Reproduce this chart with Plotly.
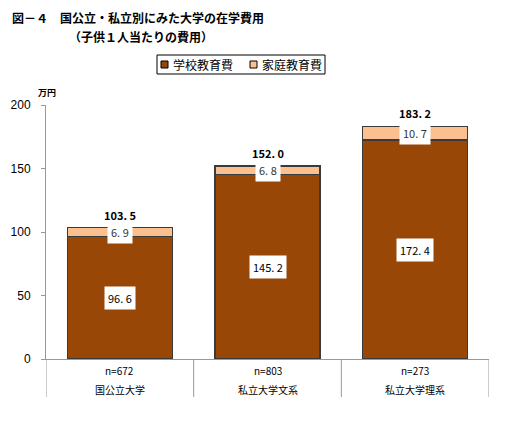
import plotly.graph_objects as go

CATEGORIES = ['国公立大学', '私立大学文系', '私立大学理系']
SAMPLE_SIZES = ['n=672', 'n=803', 'n=273']
SCHOOL_COST = [96.6, 145.2, 172.4]   # 学校教育費
HOME_COST = [6.9, 6.8, 10.7]         # 家庭教育費
TOTAL_COST = [103.5, 152.0, 183.2]
SERIES_NAMES = ['学校教育費', '家庭教育費']

BROWN = '#994706'
PEACH = '#FBC08F'
JP_FONT = 'Noto Sans CJK JP'

W, H = 508, 425
PAGE_OFFSET = 8  # default body margin of the html page

# helpers: screen pixel -> paper fraction
def px_x(p):
    return (p - PAGE_OFFSET) / W
def px_y(p):
    return 1 - (p - PAGE_OFFSET) / H

x_pos = list(range(len(CATEGORIES)))

fig = go.Figure()
fig.add_trace(go.Bar(x=x_pos, y=SCHOOL_COST, name=SERIES_NAMES[0], width=0.71,
                     marker=dict(color=BROWN, line=dict(color='#3a3a3a', width=1.3)),
                     showlegend=False))
fig.add_trace(go.Bar(x=x_pos, y=HOME_COST, name=SERIES_NAMES[1], width=0.71,
                     marker=dict(color=PEACH, line=dict(color='#3a3a3a', width=1.3)),
                     showlegend=False))

def fmt(v):
    return f'{v:.1f}'.replace('.', '. ')

annotations = []
for i in x_pos:
    # value boxes inside the segments
    annotations.append(dict(x=i, y=SCHOOL_COST[i] / 2, text=fmt(SCHOOL_COST[i]),
                            showarrow=False, bgcolor='white', borderpad=3,
                            xanchor='center', yanchor='middle',
                            font=dict(family=JP_FONT, size=11, color='black')))
    annotations.append(dict(x=i, y=SCHOOL_COST[i] + HOME_COST[i] / 2, text=fmt(HOME_COST[i]),
                            showarrow=False, bgcolor='white', borderpad=3,
                            xanchor='center', yanchor='middle',
                            font=dict(family=JP_FONT, size=11, color='#333333')))
    # totals above the bars
    annotations.append(dict(x=i, y=TOTAL_COST[i], text=f'<b>{fmt(TOTAL_COST[i])}</b>',
                            showarrow=False, xanchor='center', yanchor='bottom', yshift=3,
                            font=dict(family=JP_FONT, size=11, color='black')))
    # category labels under the axis
    annotations.append(dict(x=i, y=px_y(370), yref='paper', text=SAMPLE_SIZES[i], showarrow=False,
                            xanchor='center', yanchor='middle',
                            font=dict(family=JP_FONT, size=10, color='black')))
    annotations.append(dict(x=i, y=px_y(389), yref='paper', text=CATEGORIES[i], showarrow=False,
                            xanchor='center', yanchor='middle',
                            font=dict(family=JP_FONT, size=10, color='black')))

# title, two lines (second one indented)
annotations.append(dict(x=px_x(11), y=1, xref='paper', yref='paper', xanchor='left', yanchor='top',
                        text='<b>図－４　国公立・私立別にみた大学の在学費用</b>', showarrow=False,
                        borderpad=0, font=dict(family=JP_FONT, size=12, color='black')))
annotations.append(dict(x=px_x(68), y=px_y(27), xref='paper', yref='paper', xanchor='left', yanchor='top',
                        text='<b>（子供１人当たりの費用）</b>', showarrow=False,
                        borderpad=0, font=dict(family=JP_FONT, size=12, color='black')))
# unit
annotations.append(dict(x=px_x(47), y=px_y(92), xref='paper', yref='paper',
                        xanchor='center', yanchor='middle',
                        text='<b>万円</b>', showarrow=False,
                        font=dict(family=JP_FONT, size=9, color='black')))
# legend entries
for name, x_left in zip(SERIES_NAMES, [171, 260]):
    annotations.append(dict(x=px_x(x_left), y=px_y(64.5), xref='paper', yref='paper',
                            xanchor='left', yanchor='middle', text=name, showarrow=False,
                            font=dict(family=JP_FONT, size=12, color='black')))

shapes = []
for xd in [-0.5, 0.5, 1.5, 2.5]:
    shapes.append(dict(type='line', xref='x', yref='paper', x0=xd, x1=xd,
                       y0=px_y(359), y1=px_y(397), line=dict(color='#999999', width=1)))
# legend frame and swatches
shapes.append(dict(type='rect', xref='paper', yref='paper',
                   x0=px_x(157), x1=px_x(325), y0=px_y(74), y1=px_y(55),
                   fillcolor='white', line=dict(color='black', width=1), layer='below'))
for x0, color in [(161, BROWN), (250, PEACH)]:
    shapes.append(dict(type='rect', xref='paper', yref='paper',
                       x0=px_x(x0), x1=px_x(x0 + 7), y0=px_y(68), y1=px_y(61),
                       fillcolor=color, line=dict(color='black', width=1)))

fig.update_layout(
    barmode='stack',
    width=W, height=H,
    autosize=False,
    margin=dict(l=0, r=0, t=0, b=0, pad=0),
    paper_bgcolor='white', plot_bgcolor='white',
    annotations=annotations, shapes=shapes,
    xaxis=dict(domain=[px_x(46), px_x(489)], range=[-0.5, 2.5], showticklabels=False,
               automargin=False,
               showgrid=False, zeroline=False, showline=True, linecolor='#999999', ticks=''),
    yaxis=dict(domain=[px_y(359), px_y(105)], range=[0, 200], dtick=50, showgrid=False,
               automargin=False,
               zeroline=False, showline=True, linecolor='#999999', ticks='outside',
               ticklen=4, tickcolor='#999999', ticklabelstandoff=8,
               tickfont=dict(family='Liberation Sans', size=12, color='black')),
)

fig.write_html('out.html')
